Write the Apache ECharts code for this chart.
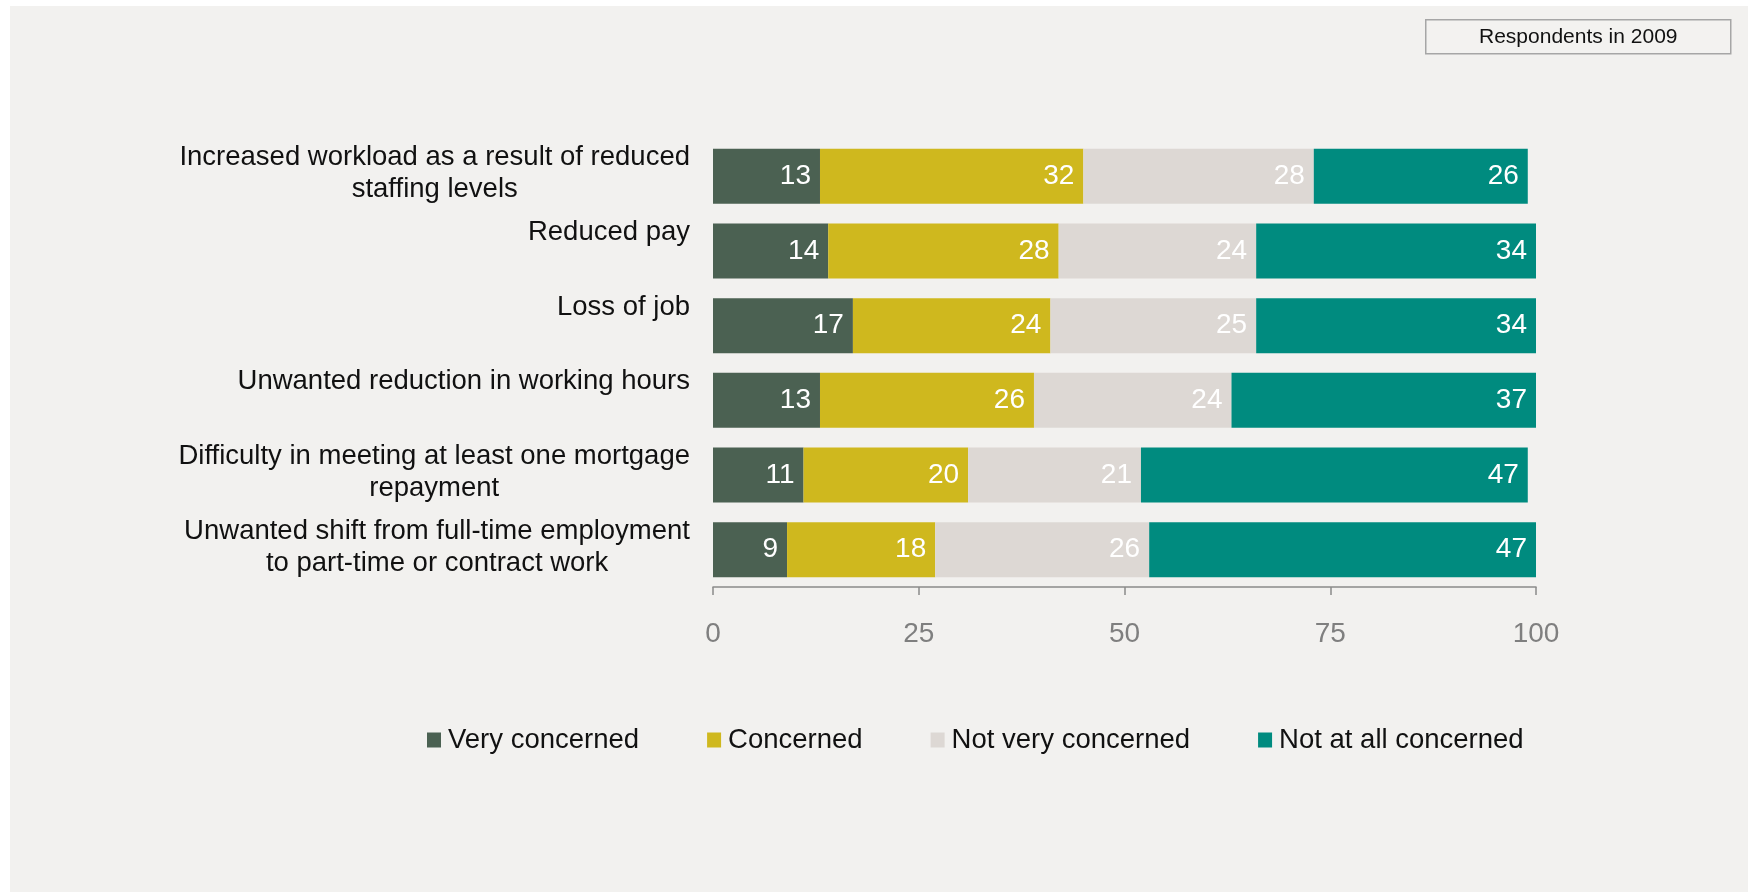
<!DOCTYPE html>
<html>
<head>
<meta charset="utf-8">
<script src="https://cdn.jsdelivr.net/npm/echarts@6/dist/echarts.min.js"></script>
<style>
  html, body { margin: 0; padding: 0; background: #ffffff; }
  #chart { width: 1748px; height: 892px; }
</style>
</head>
<body>
<div id="chart"></div>
<script>
// Concerns about the economic downturn, respondents in 2009 (%)
const categories = [
  'Increased workload as a result of reduced\nstaffing levels',
  'Reduced pay',
  'Loss of job',
  'Unwanted reduction in working hours',
  'Difficulty in meeting at least one mortgage\nrepayment',
  'Unwanted shift from full-time employment\nto part-time or contract work'
];
const seriesNames = ['Very concerned', 'Concerned', 'Not very concerned', 'Not at all concerned'];
const veryConcerned = [13, 14, 17, 13, 11, 9];
const concerned = [32, 28, 24, 26, 20, 18];
const notVeryConcerned = [28, 24, 25, 24, 21, 26];
const notAtAllConcerned = [26, 34, 34, 37, 47, 47];
const axisTicks = [0, 25, 50, 75, 100];

const colors = ['#4b6152', '#cfb81e', '#ddd8d4', '#008b7f'];
const FONT = '"Liberation Sans", Arial, sans-serif';

const chart = echarts.init(document.getElementById('chart'), null, { renderer: 'canvas' });

const seriesData = [veryConcerned, concerned, notVeryConcerned, notAtAllConcerned];

const option = {
  backgroundColor: 'transparent',
  animation: false,
  graphic: [
    {
      type: 'rect',
      left: 10, top: 6, z: -10,
      shape: { width: 1738, height: 886 },
      style: { fill: '#f2f1ef' },
      silent: true
    },
    {
      type: 'group',
      left: 1425, top: 19,
      children: [
        {
          type: 'rect',
          shape: { x: 0, y: 0, width: 305, height: 34 },
          style: { fill: '#f3f2f0', stroke: '#a6a6a6', lineWidth: 1.5 }
        },
        {
          type: 'text',
          x: 152.5, y: 17,
          style: {
            text: 'Respondents in 2009',
            fill: '#111111',
            font: '21px ' + FONT,
            align: 'center',
            verticalAlign: 'middle'
          }
        }
      ]
    }
  ],
  legend: {
    data: seriesNames,
    left: 422,
    top: 721,
    icon: 'rect',
    itemWidth: 14,
    itemHeight: 15,
    itemGap: 68,
    selectedMode: false,
    textStyle: {
      fontFamily: FONT,
      fontSize: 27.5,
      color: '#111111',
      padding: [0, 0, 0, 2]
    }
  },
  grid: {
    left: 713,
    right: 212,
    top: 139,
    height: 448,
    containLabel: false
  },
  xAxis: {
    type: 'value',
    min: axisTicks[0],
    max: axisTicks[axisTicks.length - 1],
    interval: axisTicks[1] - axisTicks[0],
    axisLine: { show: true, lineStyle: { color: '#8a8a8a', width: 1.5 } },
    axisTick: { show: true, length: 8, lineStyle: { color: '#8a8a8a', width: 1.5 } },
    splitLine: { show: false },
    axisLabel: {
      margin: 33,
      color: '#7f7f7f',
      fontFamily: FONT,
      fontSize: 28
    }
  },
  yAxis: {
    type: 'category',
    data: categories,
    inverse: true,
    axisLine: { show: false },
    axisTick: { show: false },
    axisLabel: {
      margin: 23,
      align: 'right',
      verticalAlign: 'middle',
      padding: [0, 0, 5, 0],
      formatter: function (value) {
        const lines = value.split('\n');
        if (lines.length === 1) lines.push(' ');
        return lines.map(function (l) { return '{c|' + l + '}'; }).join('\n');
      },
      rich: {
        c: {
          align: 'center',
          fontFamily: FONT,
          fontSize: 27.5,
          lineHeight: 32,
          color: '#111111'
        }
      }
    }
  },
  series: seriesNames.map(function (name, i) {
    return {
      name: name,
      type: 'bar',
      stack: 'total',
      barWidth: 55,
      data: seriesData[i],
      itemStyle: { color: colors[i] },
      label: {
        show: true,
        position: 'insideRight',
        distance: 9,
        color: '#ffffff',
        fontFamily: FONT,
        fontSize: 28
      }
    };
  })
};

chart.setOption(option);
</script>
</body>
</html>
